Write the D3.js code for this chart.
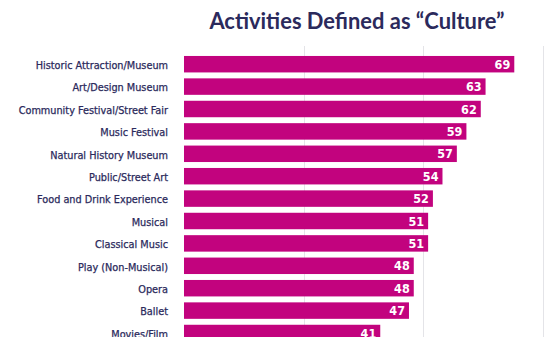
<!DOCTYPE html>
<html>
<head>
<meta charset="utf-8">
<script src="https://cdn.jsdelivr.net/npm/d3@7"></script>
<style>
  body { margin: 0; background: #fff; }
  svg { display: block; }
  .label { font-family: "Liberation Sans Narrow", "DejaVu Sans Condensed", sans-serif; font-size: 10.8px; fill: #2b2a5c; stroke: #2b2a5c; stroke-width: 0.25px; }
  .value { font-family: "Liberation Sans Narrow", "DejaVu Sans Condensed", sans-serif; font-size: 12.5px; font-weight: bold; fill: #fff; }
  .title { font-family: Lato, "Noto Sans", sans-serif; font-size: 21.9px; font-weight: 700; fill: #2b2a5c; }
</style>
</head>
<body>
<div id="chart"></div>
<script>
// Activities Defined as "Culture"

const categories = [
    "Historic Attraction/Museum",
    "Art/Design Museum",
    "Community Festival/Street Fair",
    "Music Festival",
    "Natural History Museum",
    "Public/Street Art",
    "Food and Drink Experience",
    "Musical",
    "Classical Music",
    "Play (Non-Musical)",
    "Opera",
    "Ballet",
    "Movies/Film"
];
const values = [69, 63, 62, 59, 57, 54, 52, 51, 51, 48, 48, 47, 41];
const gridTicks = [0, 25, 50, 75];

const W = 546, H = 337;
const barColor = "#c2037e";

const svg = d3.select("#chart").append("svg")
    .attr("width", W)
    .attr("height", H);

const x = d3.scaleLinear()
    .domain([0, 75])
    .range([184, 543]);

const y = d3.scaleBand()
    .domain(categories)
    .range([53, 53 + categories.length * 22.4])
    .paddingInner(0.265)
    .paddingOuter(0.1325);

// gridlines
svg.append("g")
    .selectAll("line")
    .data(gridTicks.slice(1))
    .join("line")
    .attr("x1", d => Math.round(x(d)) + 0.5)
    .attr("x2", d => Math.round(x(d)) + 0.5)
    .attr("y1", 46)
    .attr("y2", H)
    .attr("stroke", "#e4e4e8")
    .attr("stroke-width", 1);

// title
svg.append("text")
    .attr("class", "title")
    .attr("x", 357)
    .attr("y", 29)
    .attr("text-anchor", "middle")
    .text("Activities Defined as \u201cCulture\u201d");

// bars
svg.append("g")
    .selectAll("rect")
    .data(values)
    .join("rect")
    .attr("x", x(0))
    .attr("y", (d, i) => y(categories[i]))
    .attr("width", d => x(d) - x(0))
    .attr("height", y.bandwidth())
    .attr("fill", barColor);

// value labels
svg.append("g")
    .selectAll("text")
    .data(values)
    .join("text")
    .attr("class", "value")
    .attr("x", d => x(d) - 4)
    .attr("y", (d, i) => y(categories[i]) + y.bandwidth() / 2)
    .attr("dy", "0.36em")
    .attr("text-anchor", "end")
    .text(d => d);

// category labels
svg.append("g")
    .selectAll("text")
    .data(categories)
    .join("text")
    .attr("class", "label")
    .attr("x", 168)
    .attr("y", d => y(d) + y.bandwidth() / 2 + 1)
    .attr("dy", "0.36em")
    .attr("text-anchor", "end")
    .text(d => d);
</script>
</body>
</html>
